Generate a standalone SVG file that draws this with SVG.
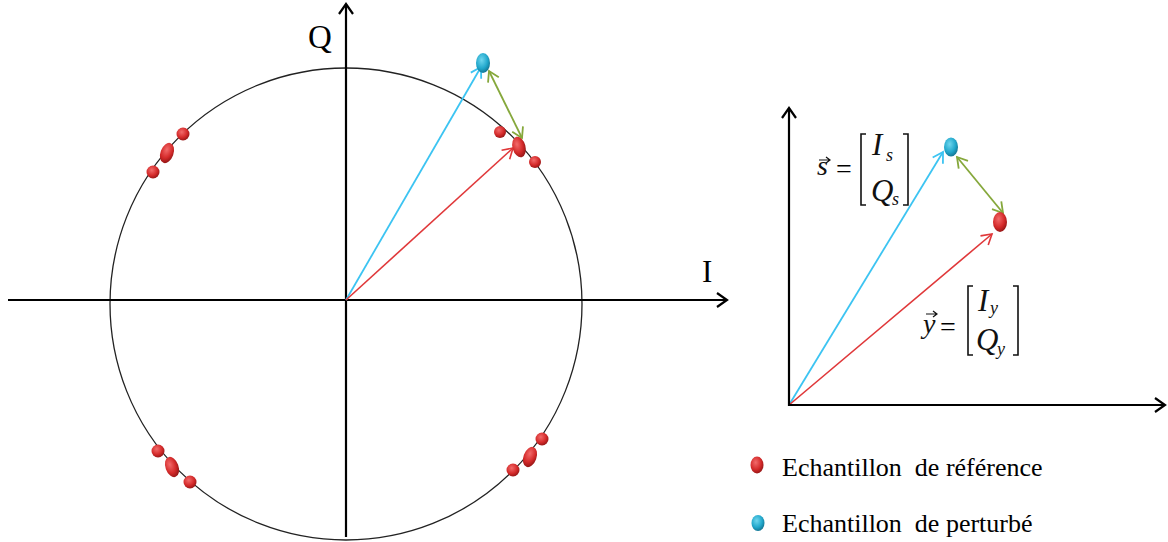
<svg xmlns="http://www.w3.org/2000/svg" width="1168" height="542" viewBox="0 0 1168 542">
<style>
.ax{stroke:#000;stroke-width:2.2;fill:none}
.circ{stroke:#222;stroke-width:1.3;fill:none}
.blue{stroke:#3cc4f2;stroke-width:1.8;fill:none}
.red{stroke:#e0383a;stroke-width:1.6;fill:none}
.green{stroke:#86a83c;stroke-width:1.8;fill:none}
.lbl{font-family:"Liberation Serif","Times New Roman",serif;fill:#000}
.math{font-family:"Liberation Serif","Times New Roman",serif;font-style:italic;fill:#111}
.br{stroke:#111;stroke-width:1.6;fill:none}
</style>
<defs>
<radialGradient id="rg" cx="0.4" cy="0.35" r="0.7">
<stop offset="0" stop-color="#f26a6a"/>
<stop offset="0.6" stop-color="#d42a2a"/>
<stop offset="1" stop-color="#8e1414"/>
</radialGradient>
<radialGradient id="bg" cx="0.4" cy="0.35" r="0.7">
<stop offset="0" stop-color="#6fd6ee"/>
<stop offset="0.6" stop-color="#22a8cc"/>
<stop offset="1" stop-color="#116f8c"/>
</radialGradient>
<marker id="ak" markerWidth="16" markerHeight="16" refX="13" refY="8" orient="auto" markerUnits="userSpaceOnUse">
<path d="M3,1 L13,8 L3,15" stroke="#000" stroke-width="2.2" fill="none"/>
</marker>
<marker id="ab" markerWidth="16" markerHeight="16" refX="13" refY="8" orient="auto" markerUnits="userSpaceOnUse">
<path d="M3,2 L13,8 L3,14" stroke="#3cc4f2" stroke-width="1.8" fill="none"/>
</marker>
<marker id="ar" markerWidth="16" markerHeight="16" refX="13" refY="8" orient="auto" markerUnits="userSpaceOnUse">
<path d="M3,2 L13,8 L3,14" stroke="#e0383a" stroke-width="1.6" fill="none"/>
</marker>
<marker id="ag" markerWidth="16" markerHeight="16" refX="13" refY="8" orient="auto-start-reverse" markerUnits="userSpaceOnUse">
<path d="M3,2 L13,8 L3,14" stroke="#86a83c" stroke-width="1.8" fill="none"/>
</marker>
</defs>

<g id="left-plane">
<circle class="circ" cx="346" cy="304" r="236"/>
<line class="ax" x1="8" y1="300" x2="727" y2="300" marker-end="url(#ak)"/>
<line class="ax" x1="346" y1="537" x2="346" y2="4" marker-end="url(#ak)"/>
<text class="lbl" x="308" y="48" font-size="33">Q</text>
<text class="lbl" x="702" y="282" font-size="31">I</text>
</g>

<g id="connectors">
<line class="blue" x1="346" y1="300" x2="481" y2="67" marker-end="url(#ab)"/>
<line class="red" x1="346" y1="300" x2="513" y2="148" marker-end="url(#ar)"/>
<line class="green" x1="489" y1="71" x2="522" y2="138" marker-start="url(#ag)" marker-end="url(#ag)"/>
<line class="blue" x1="789" y1="405" x2="943" y2="152" marker-end="url(#ab)"/>
<line class="red" x1="789" y1="405" x2="992" y2="234" marker-end="url(#ar)"/>
<line class="green" x1="957" y1="157" x2="1003" y2="213" marker-start="url(#ag)" marker-end="url(#ag)"/>
</g>

<g id="dots-left">
<circle cx="500" cy="132" r="6" fill="url(#rg)"/>
<ellipse cx="519" cy="147" rx="6.5" ry="10.5" transform="rotate(-15 519 147)" fill="url(#rg)"/>
<circle cx="535" cy="162" r="6" fill="url(#rg)"/>
<circle cx="183" cy="134" r="6.5" fill="url(#rg)"/>
<ellipse cx="167" cy="153" rx="6.5" ry="10.5" transform="rotate(20 167 153)" fill="url(#rg)"/>
<circle cx="153" cy="172" r="6.5" fill="url(#rg)"/>
<circle cx="158" cy="451" r="6.5" fill="url(#rg)"/>
<ellipse cx="172" cy="467" rx="6.5" ry="10.5" transform="rotate(-20 172 467)" fill="url(#rg)"/>
<circle cx="190" cy="482" r="6.5" fill="url(#rg)"/>
<circle cx="542" cy="439" r="6.5" fill="url(#rg)"/>
<ellipse cx="530" cy="457" rx="6.5" ry="10.5" transform="rotate(20 530 457)" fill="url(#rg)"/>
<circle cx="513" cy="470" r="6.5" fill="url(#rg)"/>
<ellipse cx="483" cy="63" rx="7" ry="10" fill="url(#bg)"/>
</g>

<g id="right-plane">
<line class="ax" x1="789" y1="406" x2="789" y2="108" marker-end="url(#ak)"/>
<line class="ax" x1="788" y1="405" x2="1165" y2="405" marker-end="url(#ak)"/>
<ellipse cx="951" cy="147" rx="7" ry="9.5" fill="url(#bg)"/>
<ellipse cx="1000" cy="222" rx="7" ry="10" fill="url(#rg)"/>
</g>

<g id="label-s">
<text class="math" x="817" y="175" font-size="28">s</text>
<path d="M819,160 L829,160 M826,157 L830,160 L826,163" stroke="#111" stroke-width="1.2" fill="none"/>
<text class="lbl" x="836" y="178" font-size="28">=</text>
<path class="br" d="M866,134 L861,134 L861,205 L866,205"/>
<path class="br" d="M903,134 L908,134 L908,205 L903,205"/>
<text class="math" x="872" y="155" font-size="31">I</text>
<text class="math" x="886" y="161" font-size="18">s</text>
<text class="math" x="871" y="201" font-size="31">Q</text>
<text class="math" x="892" y="205" font-size="18">s</text>
</g>

<g id="label-y">
<text class="math" x="923" y="333" font-size="28">y</text>
<path d="M926,314 L936,314 M933,311 L937,314 L933,317" stroke="#111" stroke-width="1.2" fill="none"/>
<text class="lbl" x="940" y="336" font-size="28">=</text>
<path class="br" d="M973,286 L968,286 L968,355 L973,355"/>
<path class="br" d="M1013,286 L1018,286 L1018,355 L1013,355"/>
<text class="math" x="978" y="311" font-size="31">I</text>
<text class="math" x="990" y="314" font-size="18">y</text>
<text class="math" x="976" y="350" font-size="31">Q</text>
<text class="math" x="997" y="355" font-size="18">y</text>
</g>

<g id="legend">
<ellipse cx="757" cy="465" rx="6.5" ry="8.5" fill="url(#rg)"/>
<text class="lbl" x="782" y="476" font-size="26" xml:space="preserve">Echantillon  de référence</text>
<ellipse cx="758" cy="523" rx="6.5" ry="8" fill="url(#bg)"/>
<text class="lbl" x="782" y="532" font-size="26" xml:space="preserve">Echantillon  de perturbé</text>
</g>
</svg>
